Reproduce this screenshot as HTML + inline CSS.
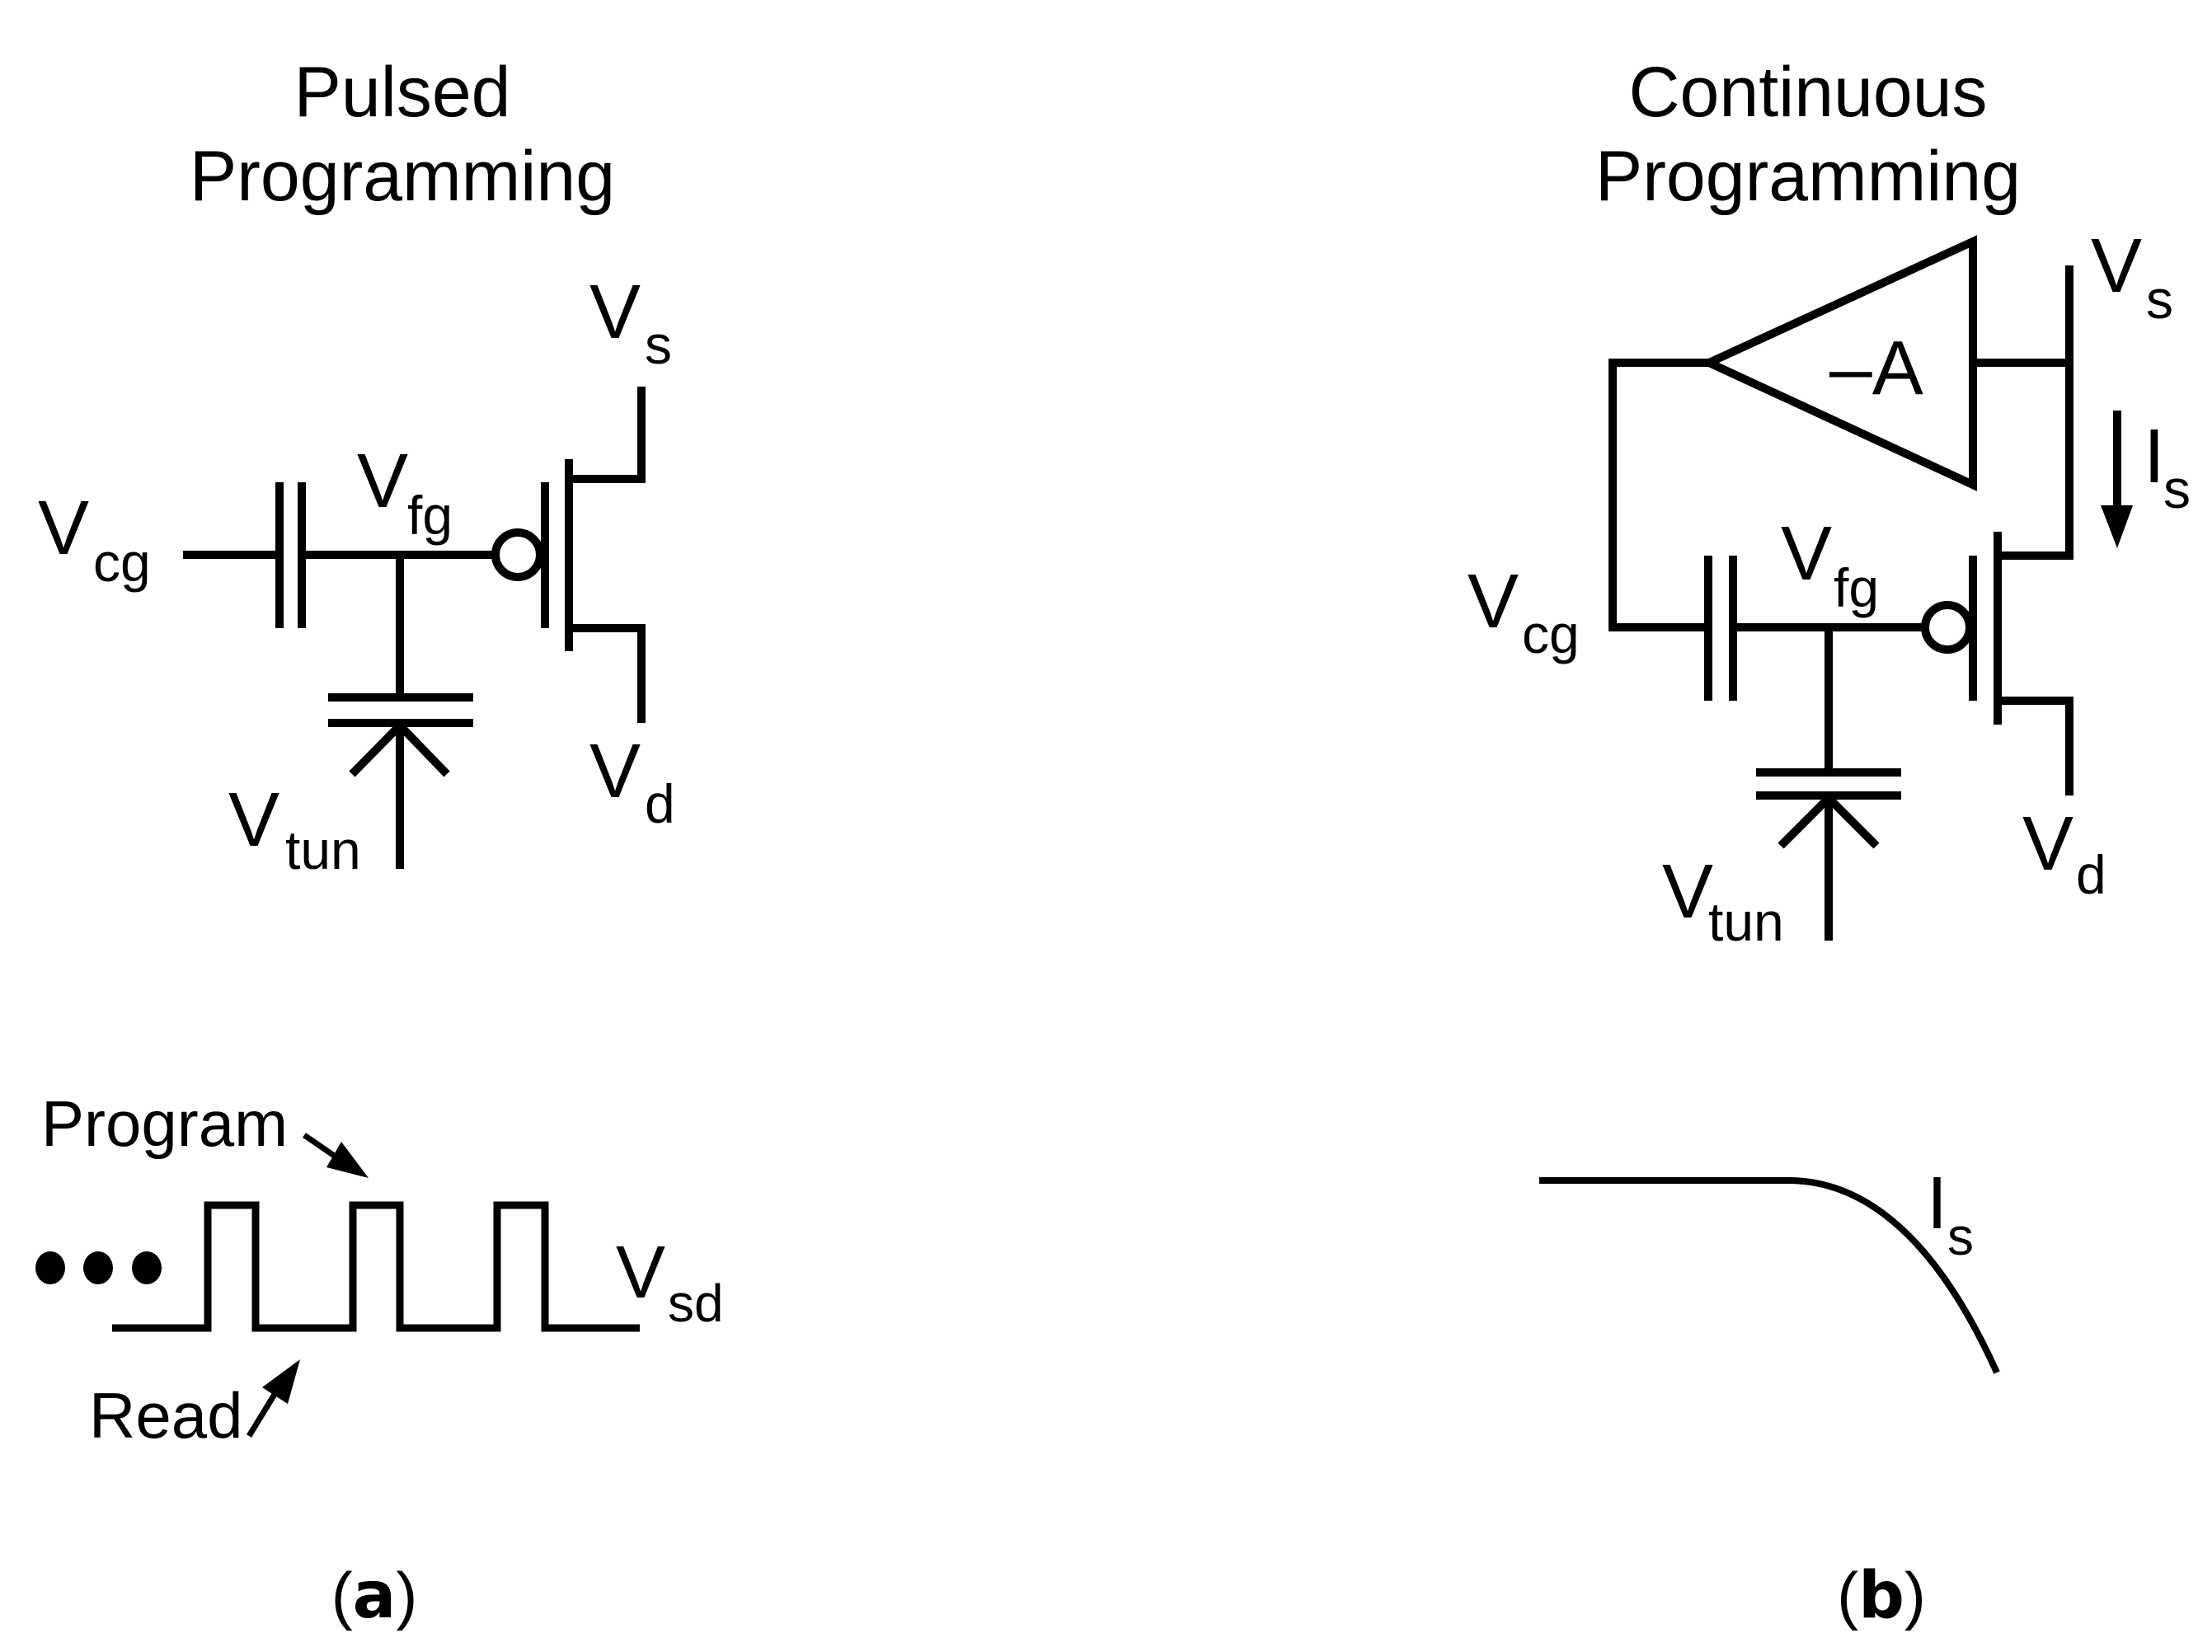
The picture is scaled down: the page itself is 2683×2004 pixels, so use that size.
<!DOCTYPE html>
<html><head><meta charset="utf-8"><style>
html,body{margin:0;padding:0;background:#fff;}
svg{display:block;}
text{font-family:"Liberation Sans",Arial,sans-serif;fill:#000;}
</style></head><body>
<svg width="2683" height="2004" viewBox="0 0 2683 2004" xmlns="http://www.w3.org/2000/svg">
<g stroke="#000" stroke-width="10" fill="none" stroke-linecap="butt">
<line x1="222" y1="673" x2="339" y2="673"/>
<line x1="339" y1="585" x2="339" y2="762"/>
<line x1="366" y1="585" x2="366" y2="762"/>
<line x1="366" y1="673" x2="600" y2="673"/>
<circle cx="628" cy="673" r="27"/>
<line x1="661" y1="585" x2="661" y2="762"/>
<line x1="690" y1="557" x2="690" y2="790"/>
<polyline points="690,581 778,581 778,469"/>
<polyline points="690,762 778,762 778,877"/>
<line x1="485" y1="673" x2="485" y2="846"/>
<line x1="398" y1="846" x2="574" y2="846"/>
<line x1="398" y1="877" x2="574" y2="877"/>
<line x1="485" y1="880" x2="485" y2="1054"/>
<polyline points="427,939 485,880 542,939"/>
<polygon points="2073,440 2393,293 2393,588"/>
<polyline points="2073,440 1956,440 1956,761 2072,761"/>
<line x1="2072" y1="674" x2="2072" y2="850"/>
<line x1="2102" y1="674" x2="2102" y2="850"/>
<line x1="2102" y1="761" x2="2334" y2="761"/>
<circle cx="2362" cy="761" r="27"/>
<line x1="2393" y1="674" x2="2393" y2="850"/>
<line x1="2423" y1="645" x2="2423" y2="879"/>
<polyline points="2423,674 2510,674 2510,322"/>
<line x1="2393" y1="440" x2="2510" y2="440"/>
<polyline points="2423,850 2510,850 2510,965"/>
<line x1="2218" y1="761" x2="2218" y2="937"/>
<line x1="2130" y1="937" x2="2306" y2="937"/>
<line x1="2130" y1="965" x2="2306" y2="965"/>
<line x1="2218" y1="968" x2="2218" y2="1141"/>
<polyline points="2160,1026 2218,968 2276,1026"/>
<line x1="2568" y1="498" x2="2568" y2="620"/>
<polyline stroke-width="9" points="136,1611 252,1611 252,1462 310,1462 310,1611 428,1611 428,1462 485,1462 485,1611 603,1611 603,1462 661,1462 661,1611 776,1611"/>
<line stroke-width="7" x1="369" y1="1377" x2="420" y2="1412"/>
<line stroke-width="7" x1="302" y1="1742" x2="340" y2="1680"/>
<path stroke-width="8" d="M1867,1432 L2173,1432 C2265,1434 2350,1505 2422,1665"/>
</g>
<g fill="#000">
<polygon points="2548,613 2587,613 2568,665"/>
<polygon points="447,1429 396,1416 414,1385"/>
<polygon points="364,1649 318,1683 349,1703"/>
<ellipse cx="61" cy="1538" rx="18" ry="20"/>
<ellipse cx="119" cy="1538" rx="18" ry="20"/>
<ellipse cx="178" cy="1538" rx="18" ry="20"/>
</g>
<text x="488" y="141" font-size="86" text-anchor="middle">Pulsed</text>
<text x="488" y="243" font-size="86" text-anchor="middle">Programming</text>
<text x="2193" y="141" font-size="86" text-anchor="middle">Continuous</text>
<text x="2193" y="243" font-size="86" text-anchor="middle">Programming</text>
<text x="46" y="672" font-size="93">V</text><text x="113" y="705" font-size="66">cg</text>
<text x="433" y="615" font-size="93">V</text><text x="494" y="648" font-size="66">fg</text>
<text x="715" y="410" font-size="93">V</text><text x="782" y="441" font-size="66">s</text>
<text x="715" y="967" font-size="93">V</text><text x="782" y="998" font-size="66">d</text>
<text x="277" y="1026" font-size="93">V</text><text x="346" y="1054" font-size="66">tun</text>
<text x="2219" y="478" font-size="93">–A</text>
<text x="2536" y="354" font-size="93">V</text><text x="2603" y="386" font-size="66">s</text>
<text x="2600" y="585" font-size="93">I</text><text x="2624" y="616" font-size="66">s</text>
<text x="1780" y="761" font-size="93">V</text><text x="1846" y="792" font-size="66">cg</text>
<text x="2160" y="703" font-size="93">V</text><text x="2224" y="736" font-size="66">fg</text>
<text x="2453" y="1055" font-size="93">V</text><text x="2518" y="1084" font-size="66">d</text>
<text x="2016" y="1113" font-size="93">V</text><text x="2072" y="1141" font-size="66">tun</text>
<text x="50" y="1390" font-size="78">Program</text>
<text x="108" y="1744" font-size="78">Read</text>
<text x="747" y="1574" font-size="90">V</text><text x="810" y="1603" font-size="64">sd</text>
<text x="2337" y="1490" font-size="90">I</text><text x="2362" y="1522" font-size="64">s</text>
<text x="454" y="1962" font-size="78" text-anchor="middle">(<tspan font-weight="bold" font-family="DejaVu Sans, sans-serif">a</tspan>)</text>
<text x="2282" y="1962" font-size="78" text-anchor="middle">(<tspan font-weight="bold" font-family="DejaVu Sans, sans-serif">b</tspan>)</text>
</svg>
</body></html>
